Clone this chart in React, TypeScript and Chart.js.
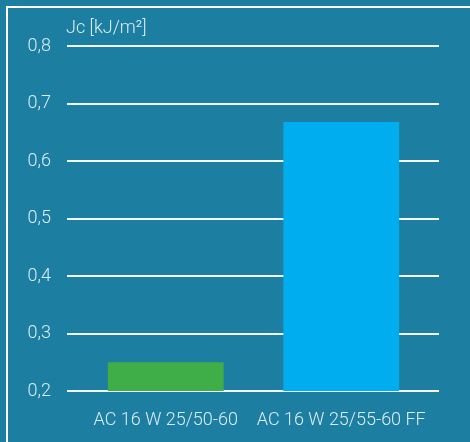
import React, { useEffect, useRef } from "react";
import { Chart, registerables } from "chart.js";

Chart.register(...registerables);

const categories = ["AC 16 W 25/50-60", "AC 16 W 25/55-60 FF"];
const values = [0.25, 0.668];
const barColors = ["#3fae49", "#00adef"];
const yTicks = [0.2, 0.3, 0.4, 0.5, 0.6, 0.7, 0.8];
const axisTitle = "Jc [kJ/m²]";

const BG = "#1c7fa2";
const TEXT = "#dcecf3";
const FONT = "Roboto";

const framePlugin = {
  id: "frame",
  beforeDraw(chart: any) {
    const { ctx, width, height } = chart;
    ctx.save();
    ctx.fillStyle = BG;
    ctx.fillRect(0, 0, width, height);
    ctx.strokeStyle = "#ffffff";
    ctx.lineWidth = 2;
    ctx.beginPath();
    ctx.moveTo(7, height);
    ctx.lineTo(7, 7);
    ctx.lineTo(width, 7);
    ctx.stroke();
    ctx.restore();
  },
  beforeDatasetsDraw(chart: any) {
    const { ctx, chartArea } = chart;
    const y = chart.scales.y;
    ctx.save();
    ctx.strokeStyle = "rgba(255,255,255,0.95)";
    ctx.lineWidth = 2;
    yTicks.forEach((t) => {
      const py = Math.round(y.getPixelForValue(t));
      ctx.beginPath();
      ctx.moveTo(chartArea.left - 11, py);
      ctx.lineTo(chartArea.right + 10, py);
      ctx.stroke();
    });
    ctx.fillStyle = TEXT;
    ctx.font = `300 18px ${FONT}`;
    ctx.textBaseline = "middle";
    ctx.textAlign = "left";
    ctx.fillText(axisTitle, chartArea.left - 12, 28);
    ctx.restore();
  },
};

export default function App() {
  const ref = useRef<HTMLCanvasElement | null>(null);
  useEffect(() => {
    document.body.style.margin = "0";
    const chart = new Chart(ref.current!, {
      type: "bar",
      data: {
        labels: categories,
        datasets: [
          {
            data: values,
            backgroundColor: barColors,
            borderWidth: 0,
            barPercentage: 0.66,
            categoryPercentage: 1,
            base: 0.2,
          },
        ],
      },
      options: {
        animation: false,
        responsive: false,
        maintainAspectRatio: false,
        layout: { padding: { top: 46, right: 41, left: 0, bottom: 11 } },
        plugins: { legend: { display: false }, tooltip: { enabled: false } },
        scales: {
          x: {
            afterFit(scale: any) {
              scale.height = 40;
            },
            grid: { display: false, drawTicks: false },
            border: { display: false },
            ticks: {
              color: TEXT,
              font: { family: FONT, size: 18, weight: "300" as any },
              padding: 19,
              maxRotation: 0,
              autoSkip: false,
            },
          },
          y: {
            min: 0.2,
            max: 0.8,
            afterFit(scale: any) {
              scale.width = 78;
            },
            afterBuildTicks(scale: any) {
              scale.ticks = yTicks.map((v) => ({ value: v }));
            },
            grid: { display: false, drawTicks: false },
            border: { display: false },
            ticks: {
              color: TEXT,
              font: { family: FONT, size: 18, weight: "300" as any },
              padding: 27,
              callback: (v: any) => Number(v).toFixed(1).replace(".", ","),
            },
          },
        },
      },
      plugins: [framePlugin],
    });
    return () => chart.destroy();
  }, []);
  return (
    <div style={{ width: 470, height: 442 }}>
      <canvas ref={ref} width={470} height={442} style={{ display: "block" }} />
    </div>
  );
}
